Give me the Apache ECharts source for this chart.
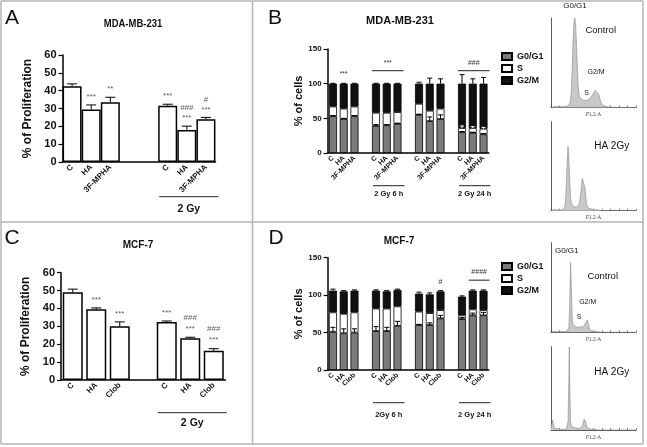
<!DOCTYPE html>
<html><head><meta charset="utf-8">
<script src="https://cdn.jsdelivr.net/npm/echarts@6/dist/echarts.min.js"></script>
<style>html,body{margin:0;padding:0;background:#fff}#c{width:647px;height:447px}</style>
</head><body><div id="c"></div>
<script>
// ---------- DATA ----------
// Panel A (MDA-MB-231 proliferation)
const labelsA = ['C','HA','3F-MPHA','C','HA','3F-MPHA'];
const meanA = [42.5, 29.5, 33.5, 31.5, 18.0, 24.0];
const errA  = [1.3, 2.5, 2.8, 0.9, 2.1, 1.0];
const sigA  = ['', '***', '**', '***', '###\n***', '#\n***'];
// Panel C (MCF-7 proliferation)
const labelsC = ['C','HA','Clob','C','HA','Clob'];
const meanC = [49.0, 39.5, 30.0, 32.5, 23.3, 16.3];
const errC  = [1.8, 0.8, 2.5, 0.5, 0.6, 1.2];
const sigC  = ['', '***', '***', '***', '###\n***', '###\n***'];
// Panel B (MDA-MB-231 cell cycle, %)
const labelsB = ['C','HA','3F-MPHA','C','HA','3F-MPHA','C','HA','3F-MPHA','C','HA','3F-MPHA'];
const g1B  = [53,49,53, 39,40,42, 55,46,49, 30,29,27];
const sB   = [14,15,14, 19,18,17, 16,15,15,  6, 7, 8];
const g2B  = [33,36,33, 42,42,41, 29,39,36, 64,64,65];
const errG1B = [1,1,1, 2,1,1, 1,6,6, 1,1,1];
const errSB  = [0,0,0, 0,0,0, 0,0,0, 3,2,2];
const errTB  = [0.5,0.5,0.5, 0.5,0.5,0.5, 2,8,7, 13,7,9];
// Panel D (MCF-7 cell cycle, %)
const labelsD = ['C','HA','Clob','C','HA','Clob','C','HA','Clob','C','HA','Clob'];
const g1D  = [51,49,50, 52,52,59, 60,60,69, 68,73,73];
const sD   = [26,26,27, 30,30,26, 18,16,11,  5, 8, 7];
const g2D  = [29,30,29, 24,23,22, 24,25,25, 25,25,26];
const errG1D = [6,6,5, 6,5,6, 1,3,4, 2,3,4];
const errTD  = [2,1,1, 1,1,1, 2,2,1, 1,1,1];
const phases = ['G0/G1','S','G2/M'];
// group annotations
const annB = [{from:0,to:2,value:114,text:'***',line:false},{from:3,to:5,value:118.7,text:'***',line:true},{from:9,to:11,value:118.7,text:'###',line:true}];
const annD = [{from:8,to:8,value:117,text:'#',line:false},{from:10,to:11,value:120,text:'####',line:true}];
const brA = [{from:3,to:5,text:'2 Gy'}];
const brC = [{from:3,to:5,text:'2 Gy'}];
const brB = [{from:3,to:5,text:'2 Gy 6 h'},{from:9,to:11,text:'2 Gy 24 h'}];
const brD = [{from:3,to:5,text:'2Gy 6 h'},{from:9,to:11,text:'2 Gy 24 h'}];
// Flow cytometry histograms [channel %, count %]
const histCtrlB = [[0,0],[2,1],[5,1],[8,1],[10,0.5],[12,1],[15,1],[18,1],[20,2],[22,4],[23,8],[24,20],[25,45],[26,75],[27,95],[28,100],[29,92],[30,70],[31,45],[32,25],[33,15],[34,11],[36,9],[38,8],[40,8],[42,8],[44,8],[46,10],[48,13],[50,16],[52,19],[53,20],[54,19],[56,15],[58,8],[60,3],[62,1.5],[65,1],[70,0.5],[75,0],[100,0]];
const histHAB = [[0,0],[3,1],[6,1],[10,1],[13,1],[15,2],[16,4],[17,10],[18,30],[19,55],[20,72],[21,60],[22,35],[23,15],[24,8],[26,5],[28,4],[30,4],[32,5],[33,7],[34,12],[35,20],[36,30],[37,36],[38,38],[39,34],[40,25],[41,14],[42,7],[44,3],[46,2],[50,1],[55,1],[60,0],[100,0]];
const histCtrlD = [[0,0],[3,1],[8,1],[12,1],[15,1],[18,1],[20,2],[21,5],[22,30],[23,78],[24,50],[25,15],[26,8],[28,6],[30,6],[32,5],[34,6],[36,6],[38,6],[40,8],[41,11],[42,13],[43,14],[44,10],[45,5],[46,2],[48,1],[52,1],[60,0],[100,0]];
const histHAD = [[0,2],[1,8],[2,12],[3,6],[4,2],[6,1],[10,1],[15,1],[18,1],[19,2],[20,10],[21,60],[21.5,100],[22,60],[23,12],[24,4],[26,2],[30,2],[34,2],[36,3],[37,5],[38,9],[39,13],[40,14],[41,9],[42,4],[43,2],[46,1],[50,1],[55,0],[100,0]];

// ---------- HELPERS ----------
const FONT = 'Arial, "Liberation Sans", sans-serif';
function slot(i, gap){ return i + Math.floor(i/3)*gap; }
function toSlots(arr, gap, fill){ const out=[]; arr.forEach((v,i)=>{ if(i>0 && i%3===0) for(let k=0;k<gap;k++) out.push(fill); out.push(v); }); return out; }
function errSeries(idx, items, color, capW){
  return {type:'custom', xAxisIndex:idx, yAxisIndex:idx, z:5, silent:true, data:items,
    renderItem:(p, api)=>{
      const x=api.value(0), lo=api.value(1), hi=api.value(2);
      const a=api.coord([x,lo]), b=api.coord([x,hi]);
      return {type:'group', children:[
        {type:'line', shape:{x1:a[0],y1:a[1],x2:b[0],y2:b[1]}, style:{stroke:color,lineWidth:1}},
        {type:'line', shape:{x1:b[0]-capW/2,y1:b[1],x2:b[0]+capW/2,y2:b[1]}, style:{stroke:color,lineWidth:1}}]};
    }};
}
function catAxis(idx, labels, gap, fs){
  return {type:'category', gridIndex:idx, data:toSlots(labels,gap,''), boundaryGap:true,
    axisLine:{show:true,lineStyle:{color:'#000',width:1.5}}, axisTick:{show:false},
    axisLabel:{interval:0, rotate:45, fontSize:fs, fontWeight:'bold', fontFamily:FONT, color:'#111', margin:4}};
}
function valAxis(idx, max, interval, name, gap, fs){
  return {type:'value', gridIndex:idx, min:0, max:max, interval:interval,
    axisLine:{show:true,lineStyle:{color:'#000',width:1.5}}, axisTick:{show:true,length:4,lineStyle:{color:'#000',width:1.2}},
    splitLine:{show:false}, axisLabel:{fontSize:fs, fontWeight:'bold', fontFamily:FONT, color:'#111', margin:6},
    name:name, nameLocation:'middle', nameGap:gap, nameTextStyle:{fontSize: idx===0||idx===2?12:11, fontWeight:'bold', fontFamily:FONT, color:'#111'}};
}
function histX(idx){ return {type:'value', gridIndex:idx, min:0, max:100, interval:10,
  axisLine:{show:true,lineStyle:{color:'#333',width:0.8}}, axisTick:{show:true,inside:true,length:2,lineStyle:{color:'#333',width:0.6}},
  axisLabel:{show:false}, splitLine:{show:false}, name:'FL2-A', nameLocation:'middle', nameGap:5,
  nameTextStyle:{fontSize:5, fontFamily:'"DejaVu Serif", serif', color:'#444'}}; }
function histY(idx){ return {type:'value', gridIndex:idx, min:0, max:100,
  axisLine:{show:true,lineStyle:{color:'#333',width:0.8}}, axisTick:{show:false}, axisLabel:{show:false}, splitLine:{show:false}}; }
function histSeries(idx, data){ return {type:'line', xAxisIndex:idx, yAxisIndex:idx, data:data, showSymbol:false, silent:true,
  lineStyle:{color:'#888',width:0.6}, areaStyle:{color:'#c8c8c8', opacity:1}}; }
function propBars(idx, labels, mean, err, sig, gap, bw, lh){
  const s=[];
  s.push({type:'bar', xAxisIndex:idx, yAxisIndex:idx, barWidth:bw, data:toSlots(mean,gap,null),
    itemStyle:{color:'#fff', borderColor:'#000', borderWidth:1.5}, silent:true});
  s.push(errSeries(idx, mean.map((m,i)=>[slot(i,gap), m, m+err[i]]), '#000', 10));
  s.push({type:'scatter', xAxisIndex:idx, yAxisIndex:idx, symbolSize:0, silent:true,
    data: mean.map((m,i)=>({value:[slot(i,gap), m+err[i]], label:{formatter:sig[i]}})),
    label:{show:true, position:'top', distance:3, fontSize:8, lineHeight:lh, color:'#333', fontFamily:FONT}});
  return s;
}
function cycleBars(idx, g1, s, g2, errG, errS, errT){
  const gap=1, out=[];
  const cols=['#7b7b7b','#ffffff','#111111'];
  [g1,s,g2].forEach((arr,k)=>{
    out.push({type:'bar', name:phases[k], xAxisIndex:idx, yAxisIndex:idx, stack:'st'+idx, barWidth:8, data:toSlots(arr,gap,null),
      itemStyle:{color:cols[k], borderColor:'#000', borderWidth:0.8}, silent:true});
  });
  out.push(errSeries(idx, g1.map((v,i)=>[slot(i,gap), v, v+errG[i]]).filter((d,i)=>errG[i]>0), '#000', 5));
  if(errS) out.push(errSeries(idx, g1.map((v,i)=>[slot(i,gap), v+s[i], v+s[i]+errS[i]]).filter((d,i)=>errS[i]>0), '#fff', 4));
  out.push(errSeries(idx, g1.map((v,i)=>[slot(i,gap), v+s[i]+g2[i], v+s[i]+g2[i]+errT[i]]).filter((d,i)=>errT[i]>0), '#000', 5));
  return out;
}

// ---------- CHART ----------
const chart = echarts.init(document.getElementById('c'), null, {renderer:'canvas'});
const legendCommon = {orient:'vertical', left:501, itemWidth:10, itemHeight:7, itemGap:3, padding:0, icon:'rect', selectedMode:false,
  data:phases, textStyle:{fontSize:9, lineHeight:9, fontWeight:'bold', fontFamily:FONT, color:'#111'}};
const option = {
  animation:false, backgroundColor:'#fff',
  textStyle:{fontFamily:FONT},
  legend:[Object.assign({top:52}, legendCommon), Object.assign({top:262}, legendCommon)],
  grid:[
    {left:62.5, top:55, width:153, height:107},
    {left:327.6, top:49, width:161.3, height:104},
    {left:61, top:272.7, width:164.5, height:107.3},
    {left:327.6, top:257.7, width:161.3, height:112.3},
    {left:551, top:18, width:85, height:89.5},
    {left:551, top:121.7, width:85, height:89},
    {left:551, top:242.7, width:85, height:89.6},
    {left:551, top:346.7, width:85, height:83.3}
  ],
  xAxis:[catAxis(0,labelsA,2,8), catAxis(1,labelsB,1,7), catAxis(2,labelsC,1,8), catAxis(3,labelsD,1,7),
    histX(4), histX(5), histX(6), histX(7)],
  yAxis:[valAxis(0,60,10,'% of Proliferation',29,11), valAxis(1,150,50,'% of cells',20,8),
    valAxis(2,60,10,'% of Proliferation',29,11), valAxis(3,150,50,'% of cells',20,8),
    histY(4), histY(5), histY(6), histY(7)],
  series:[].concat(
    propBars(0,labelsA,meanA,errA,sigA,2,19,10),
    propBars(2,labelsC,meanC,errC,sigC,1,20,11),
    cycleBars(1,g1B,sB,g2B,errG1B,errSB,errTB),
    cycleBars(3,g1D,sD,g2D,errG1D,null,errTD),
    [histSeries(4,histCtrlB), histSeries(5,histHAB), histSeries(6,histCtrlD), histSeries(7,histHAD)]
  )
};
chart.setOption(option);

// ---------- ANNOTATIONS ----------
const G=[];
function txt(x,y,text,size,weight,extra){ G.push(Object.assign({type:'text', x:x, y:y, z:100, silent:true,
  style:{text:text, fontSize:size, fontWeight:weight||'normal', fontFamily:FONT, fill:'#111', align:'center', verticalAlign:'middle', textAlign:'center', textVerticalAlign:'middle'}}, extra||{})); }
function ln(x1,y1,x2,y2,c,w){ G.push({type:'line', z:100, silent:true, shape:{x1,y1,x2,y2}, style:{stroke:c||'#000', lineWidth:w||1}}); }
function px(idx, i, gap, v){ return chart.convertToPixel({xAxisIndex:idx, yAxisIndex:idx}, [slot(i,gap), v]); }
function brackets(idx, list, gap, bw, lineOff, textOff, fs){
  list.forEach(b=>{
    const a=px(idx,b.from,gap,0), c=px(idx,b.to,gap,0);
    const x1=a[0]-bw/2+1, x2=c[0]+bw/2+3, y=a[1]+lineOff;
    ln(x1,y,x2,y,'#222',1);
    txt((x1+x2)/2, a[1]+textOff, b.text, fs, 'bold');
  });
}
function groupAnn(idx, list, bw){
  list.forEach(b=>{
    const a=px(idx,b.from,1,b.value), c=px(idx,b.to,1,b.value);
    const st={text:b.text,fontSize:7,fontFamily:FONT,fill:'#333',align:'center',verticalAlign:'middle'};
    if(b.line){ ln(a[0]-bw/2, a[1], c[0]+bw/2+2, a[1], '#222', 1); txt((a[0]+c[0])/2+1, a[1]-8, b.text, 7, 'normal', {style:st}); }
    else txt((a[0]+c[0])/2, a[1], b.text, 7, 'normal', {style:st});
  });
}
brackets(0, brA, 2, 19, 34.7, 47, 10.5);
brackets(2, brC, 1, 20, 32.7, 43, 10.5);
brackets(1, brB, 1, 8, 32.7, 41, 7.5);
brackets(3, brD, 1, 8, 32.7, 45, 7.5);
groupAnn(1, annB, 8);
groupAnn(3, annD, 8);
// panel letters and titles
txt(12, 18, 'A', 21); txt(275, 18, 'B', 21); txt(12, 238, 'C', 21); txt(276, 238, 'D', 21);
txt(133, 24, 'MDA-MB-231', 11, 'bold', {scaleX:0.86});
txt(400, 21, 'MDA-MB-231', 11, 'bold');
txt(138, 245, 'MCF-7', 10, 'bold');
txt(399, 241.7, 'MCF-7', 10, 'bold');
// histogram labels
txt(575, 6, 'G0/G1', 8); txt(600.7, 30, 'Control', 9.5); txt(596, 72, 'G2/M', 7); txt(586.7, 93, 'S', 7);
txt(611.7, 146.7, 'HA 2Gy', 10);
txt(566.7, 251, 'G0/G1', 8); txt(602.7, 276.7, 'Control', 9.5); txt(587.7, 302.3, 'G2/M', 7); txt(579, 316.7, 'S', 7);
txt(611.7, 372.7, 'HA 2Gy', 10);
// frame
const fc='#b4b4b4';
ln(1,1,643,1,fc,1.5); ln(1,444,643,444,fc,1.5); ln(1,1,1,444,fc,1.5); ln(643,1,643,444,fc,1.5);
ln(252.5,1,252.5,444,fc,1.5); ln(1,222,643,222,fc,1.5);
chart.setOption({graphic:{elements:G}});
</script></body></html>
